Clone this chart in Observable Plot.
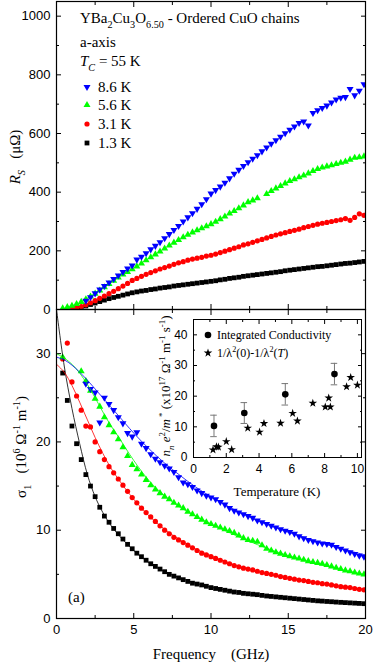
<!DOCTYPE html>
<html><head><meta charset="utf-8">
<script src="https://cdn.jsdelivr.net/npm/d3@7"></script>
<script src="https://cdn.jsdelivr.net/npm/@observablehq/plot@0.6"></script>
<style>
body{margin:0;background:#fff;}
#chart{position:relative;width:374px;height:665px;overflow:hidden;background:#fff;}
#chart svg{position:absolute;overflow:visible;}
</style></head><body><div id="chart"></div>
<script>
// ---------- data ----------
const F = [0.4,0.7,1.0,1.3,1.6,1.9,2.2,2.5,2.8,3.1,
  3.4,3.7,4.0,4.3,4.6,4.9,5.2,5.5,5.8,6.1,
  6.4,6.7,7.0,7.3,7.6,7.9,8.2,8.5,8.8,9.1,
  9.4,9.7,10.0,10.3,10.6,10.9,11.2,11.5,11.8,12.1,
  12.4,12.7,13.0,13.3,13.6,13.9,14.2,14.5,14.8,15.1,
  15.4,15.7,16.0,16.3,16.6,16.9,17.2,17.5,17.8,18.1,
  18.4,18.7,19.0,19.3,19.6,19.9];

// Rs (micro-ohm)
const RS_86 = [null,null,null,null,null,30,42,55,68,80,
  92,104,116,128,140,150,170,180,192,205,
  217,229,243,257,271,285,300,314,328,343,
  359,376,395,407,419,432,447,463,476,489,
  502,514,526,539,552,565,577,589,601,613,
  624,636,641,627,670,679,687,695,706,716,
  722,724,752,730,746,768];
const RS_56 = [4,8,13,19,26,35,44,54,65,76,
  87,98,109,119,128,137,147,157,168,178,
  188,198,208,218,228,237,246,255,263,270,
  277,284,291,299,308,317,327,336,345,355,
  366,372,379,null,394,404,413,421,430,438,
  444,451,457,464,472,479,484,488,492,496,
  500,504,511,517,519,522];
const RS_31 = [null,null,2,5,10,16,23,30,38,46,
  54,62,71,80,89,99,106,113,120,126,
  132,138,143,148,154,159,163,168,172,175,
  178,182,185,189,194,199,204,209,214,220,
  224,229,234,239,244,249,254,258,262,266,
  270,274,279,283,287,291,294,297,300,303,
  306,310,304,314,326,321];
const RS_13 = [null,0,1,3,7,12,17,22,27,32,
  37,41,45,49,53,57,60,63,65,68,
  70,73,75,77,80,82,84,86,88,90,
  92,94,96,98,101,103,106,108,110,113,
  115,117,119,121,123,125,127,129,132,134,
  136,138,140,142,144,146,147,149,151,153,
  155,157,158,160,162,164];

// sigma1 (10^6 / ohm m)
const S1_86 = [null,null,null,null,null,26.6,26.0,25.6,22.2,25.0,
  24.3,23.6,22.8,22.1,21.0,20.6,21.1,19.8,19.3,18.6,
  18.1,17.7,17.3,17.0,16.6,16.0,15.4,15.2,14.9,14.5,
  14.2,13.9,13.7,13.5,13.2,12.9,12.5,12.2,12.0,11.8,
  11.6,11.4,11.1,10.9,10.7,10.5,10.3,10.1,9.95,9.8,
  9.6,9.3,9.1,8.9,8.75,8.6,8.5,8.45,8.35,8.1,
  7.9,7.7,7.5,7.3,7.1,7.0];
const S1_56 = [29.6,null,null,null,28.0,26.9,25.8,24.9,24.0,22.8,
  21.9,21.1,20.3,19.4,18.4,17.4,16.9,16.3,15.7,15.1,
  14.6,14.2,13.8,13.5,13.1,12.8,12.5,12.1,11.8,11.5,
  11.2,10.9,10.7,10.5,10.3,10.1,9.9,9.7,9.4,9.1,
  8.9,8.8,8.7,8.3,7.9,7.7,7.5,7.35,7.2,7.05,
  6.9,6.8,6.65,6.5,6.4,6.3,6.2,6.05,5.9,5.75,
  5.6,5.45,5.35,5.2,5.1,5.0];
const S1_31 = [29.4,31.2,26.8,25.2,23.6,21.8,21.7,20.0,18.9,18.0,
  17.2,16.5,15.8,15.1,14.4,13.7,13.1,12.5,12.0,11.5,
  11.0,10.5,10.0,9.6,9.2,8.9,8.6,8.3,8.0,7.7,
  7.4,7.2,7.0,6.8,6.6,6.4,6.2,6.0,5.85,5.7,
  5.6,5.5,5.35,5.2,5.1,5.0,4.9,4.75,4.65,4.55,
  4.45,4.35,4.3,4.2,4.1,4.05,3.95,3.9,3.8,3.7,
  3.6,3.55,3.5,3.4,3.3,3.25];
const S1_13 = [27.8,24.7,21.8,19.8,18.0,16.3,15.0,13.8,12.6,11.6,
  10.9,10.2,9.6,9.0,8.4,7.9,7.4,7.0,6.6,6.2,
  5.9,5.6,5.3,5.0,4.8,4.6,4.4,4.2,4.0,3.9,
  3.8,3.65,3.5,3.4,3.3,3.2,3.1,3.0,2.95,2.85,
  2.8,2.75,2.7,2.62,2.55,2.5,2.45,2.4,2.35,2.3,
  2.25,2.2,2.15,2.1,2.05,2.0,1.97,1.93,1.9,1.86,
  1.83,1.8,1.77,1.74,1.71,1.68];

// fitted curves
const FIT_F  = [0,0.5,1,1.5,2,2.5,3,3.5,4,5,6,7,8,9,10,12,14,16,18,20];
const FIT_86 = [29.6,29.3,28.7,27.9,27.0,26.0,25.0,24.0,23.0,21.0,19.2,17.6,16.2,14.9,13.8,11.9,10.4,9.2,8.1,7.2];
const FIT_56 = [30.0,29.5,28.8,27.8,26.5,25.0,23.4,21.9,20.6,17.9,15.6,13.9,12.6,11.6,10.7,9.1,7.7,6.6,5.7,4.95];
const FIT_31 = [28.8,27.9,26.4,24.5,22.5,20.5,18.7,17.1,15.8,13.5,11.6,10.1,8.9,7.9,7.1,5.8,4.9,4.25,3.75,3.3];
const FIT_13 = [35.0,28.6,23.8,19.8,16.3,13.8,12.0,10.6,9.5,7.7,6.3,5.3,4.6,4.0,3.55,2.9,2.45,2.15,1.9,1.65];

// inset
const IC_T   = [1.25,3.1,5.6,8.6];
const IC_V   = [10.3,14.5,20.6,27.2];
const IC_ERR = [3.5,3.4,3.5,3.5];
const ST_T = [1.19,1.40,1.52,2.0,2.33,3.31,4.03,4.3,5.31,6.05,6.34,7.28,8.04,8.25,8.35,9.34,9.59,10.0];
const ST_V = [2.5,3.5,3.4,5.2,2.6,9.6,8.3,11.1,11.2,14.4,11.9,17.7,16.5,19.4,16.5,23.1,26.1,23.6];

// ticks
const X_MAJOR = [0,5,10,15,20], X_MINOR = [2.5,7.5,12.5,17.5];
const RS_MAJOR = [0,200,400,600,800,1000], RS_MINOR = [100,300,500,700,900];
const S1_MAJOR = [0,10,20,30], S1_MINOR = [5,15,25];
const T_MAJOR = [0,2,4,6,8,10], T_MINOR = [1,3,5,7,9];
const N_MAJOR = [0,10,20,30,40], N_MINOR = [5,15,25,35];

const LABELS = ["8.6 K","5.6 K","3.1 K","1.3 K"];
const COLORS = ["#0000ff","#00ff00","#ff0000","#000000"];

// ---------- helpers ----------
const triDown = {draw(ctx, size){ const y = Math.sqrt(size/(Math.sqrt(3)*3)); const s3 = Math.sqrt(3);
  ctx.moveTo(0, 2*y); ctx.lineTo(-s3*y, -y); ctx.lineTo(s3*y, -y); ctx.closePath(); }};
const SYMS = [triDown, "triangle", "circle", "square"];
const D3SYMS = [triDown, d3.symbolTriangle, d3.symbolCircle, d3.symbolSquare];
const RADII = [2.6, 2.6, 2.6, 2.7];
const RS = [RS_86, RS_56, RS_31, RS_13];
const S1 = [S1_86, S1_56, S1_31, S1_13];
const FITS = [FIT_86, FIT_56, FIT_31, FIT_13];
const plain = d => String(d);

function rows(arr){ return F.map((f,i)=>({f, v: arr[i]})).filter(d=>d.v!=null); }
function fitRows(arr){ return FIT_F.map((f,i)=>({f, v: arr[i]})); }

function inTicks(xMaj, xMin, yMaj, yMin, big, small){
  const o = {label: null, tickFormat: () => "", strokeWidth: 1};
  return [
    ...["bottom","top"].flatMap(a => [Plot.axisX(xMaj, {...o, anchor: a, tickSize: -big}), Plot.axisX(xMin, {...o, anchor: a, tickSize: -small})]),
    ...["left","right"].flatMap(a => [Plot.axisY(yMaj, {...o, anchor: a, tickSize: -big}), Plot.axisY(yMin, {...o, anchor: a, tickSize: -small})])
  ];
}
const order = [3,2,1,0];
const root = document.getElementById("chart");
function place(svg, left, top){ svg.style.position="absolute"; svg.style.left=left+"px"; svg.style.top=top+"px"; root.appendChild(svg); }
const baseStyle = {fontFamily: "'Liberation Sans', Arial, sans-serif", fontSize: "13px", background: "none", overflow: "visible", color: "#000"};

// ---------- top panel ----------
const topPlot = Plot.plot({
  width: 374, height: 310, marginTop: 1, marginBottom: 1, marginLeft: 56, marginRight: 9,
  x: {domain: [0,20]}, y: {domain: [0,1050]}, style: baseStyle,
  marks: [
    ...inTicks(X_MAJOR, X_MINOR, RS_MAJOR, RS_MINOR, 5, 3),
    Plot.axisY(RS_MAJOR, {anchor: "left", tickSize: 0, tickPadding: 6, label: null, tickFormat: plain}),
    ...order.map(k => Plot.dot(rows(RS[k]), {x: "f", y: "v", symbol: SYMS[k], r: RADII[k], fill: COLORS[k], stroke: "none", clip: true})),
    Plot.frame({stroke: "#000", strokeWidth: 1.2})
  ]
});
place(topPlot, 0, 0);

// ---------- bottom panel ----------
const botPlot = Plot.plot({
  width: 374, height: 356, marginTop: 0, marginBottom: 47, marginLeft: 56, marginRight: 9,
  x: {domain: [0,20]}, y: {domain: [0,35]}, style: baseStyle,
  marks: [
    ...inTicks(X_MAJOR, X_MINOR, S1_MAJOR, S1_MINOR, 5, 3),
    Plot.axisX(X_MAJOR, {anchor: "bottom", tickSize: 0, tickPadding: 6, label: null, tickFormat: plain}),
    Plot.axisY(S1_MAJOR, {anchor: "left", tickSize: 0, tickPadding: 6, label: null, tickFormat: plain}),
    ...order.map(k => Plot.dot(rows(S1[k]), {x: "f", y: "v", symbol: SYMS[k], r: RADII[k], fill: COLORS[k], stroke: "none", clip: true})),
    ...order.map(k => Plot.line(fitRows(FITS[k]), {x: "f", y: "v", stroke: COLORS[k], strokeWidth: 0.8, curve: "catmull-rom", clip: true})),
    Plot.frame({stroke: "#000", strokeWidth: 1.2})
  ]
});
place(botPlot, 0, 309);

// ---------- inset ----------
const icRows = IC_T.map((t,i)=>({t, v: IC_V[i], e: IC_ERR[i]}));
const stRows = ST_T.map((t,i)=>({t, v: ST_V[i]}));
const inset = Plot.plot({
  width: 215, height: 190, marginTop: 9, marginBottom: 43, marginLeft: 43, marginRight: 4,
  x: {domain: [0,10.25]}, y: {domain: [0,45]}, style: {...baseStyle, fontSize: "12px"},
  marks: [
    ...inTicks(T_MAJOR, T_MINOR, N_MAJOR, N_MINOR, 4, 2),
    Plot.axisX(T_MAJOR, {anchor: "bottom", tickSize: 0, tickPadding: 7, label: null, tickFormat: plain}),
    Plot.axisY(N_MAJOR, {anchor: "left", tickSize: 0, tickPadding: 6, label: null, tickFormat: plain}),
    Plot.ruleX(icRows, {x: "t", y1: d => d.v - d.e, y2: d => d.v + d.e, stroke: "#777", strokeWidth: 1}),
    Plot.ruleY(icRows, {y: d => d.v + d.e, x1: d => d.t - 0.2, x2: d => d.t + 0.2, stroke: "#777", strokeWidth: 1}),
    Plot.ruleY(icRows, {y: d => d.v - d.e, x1: d => d.t - 0.2, x2: d => d.t + 0.2, stroke: "#777", strokeWidth: 1}),
    Plot.dot(stRows, {x: "t", y: "v", symbol: "star", r: 2.7, fill: "#000", stroke: "none", clip: true}),
    Plot.dot(icRows, {x: "t", y: "v", symbol: "circle", r: 3.3, fill: "#000", stroke: "none"}),
    Plot.frame({stroke: "#000", strokeWidth: 1})
  ]
});
place(inset, 150, 310);

// ---------- text overlay ----------
const ov = d3.select(root).append("svg").attr("width", 374).attr("height", 665)
  .style("left", "0px").style("top", "0px").style("pointer-events", "none");
const SERIF = "'Liberation Serif', 'Times New Roman', serif";
function rich(x, y, parts, size, opts = {}){
  const t = ov.append("text").attr("font-family", SERIF).attr("font-size", size).attr("fill", "#000")
    .attr("text-anchor", opts.anchor || "start");
  if (opts.rotate) t.attr("transform", `translate(${x},${y}) rotate(-90)`); else t.attr("x", x).attr("y", y);
  let shift = 0;
  for (const [s, k] of parts){
    const ts = t.append("tspan").text(s);
    let target = 0, fs = size;
    if (k.includes("sub")) { target = size*0.3; fs = size*0.68; }
    if (k.includes("sup")) { target = -size*0.38; fs = size*0.68; }
    if (k.startsWith("i")) ts.attr("font-style", "italic");
    ts.attr("dy", target - shift).attr("font-size", fs);
    shift = target;
  }
  return t;
}
const NB = "\u00a0";
rich(80, 23, [["YBa","n"],["2","sub"],["Cu","n"],["3","sub"],["O","n"],["6.50","sub"],[" - Ordered CuO chains","n"]], 15);
rich(80, 47, [["a-axis","n"]], 15);
rich(80, 66, [["T","i"],["C","isub"],[" = 55 K","n"]], 15);
const legY = [92, 110, 129, 148];
LABELS.forEach((lab, k) => {
  ov.append("path").attr("d", d3.symbol(D3SYMS[k], RADII[k]*RADII[k]*Math.PI)())
    .attr("transform", `translate(87,${legY[k]-5})`).attr("fill", COLORS[k]);
  rich(98, legY[k], [[lab,"n"]], 15);
});
rich(20, 157, [["R","i"],["S","isub"],[NB+NB+NB+"(μΩ)","n"]], 15, {rotate: true, anchor: "middle"});
rich(26, 447, [["σ","n"],["1","sub"],[NB+NB+NB+"(10","n"],["6","sup"],[NB+"Ω","n"],["-1","sup"],[NB+"m","n"],["-1","sup"],[")","n"]], 15, {rotate: true, anchor: "middle"});
rich(211, 659, [["Frequency"+NB+NB+NB+NB+"(GHz)","n"]], 15, {anchor: "middle"});
rich(68, 602, [["(a)","n"]], 15);
rich(277, 496, [["Temperature (K)","n"]], 13, {anchor: "middle"});
rich(170, 386, [["n","i"],["n","isub"],[NB+"e","i"],["2","sup"],["/","n"],["m","i"],[NB+"*","sup"],[NB+"(x10","n"],["17","sup"],[NB+"Ω","n"],["-1","sup"],[NB+"m","n"],["-1","sup"],[NB+"s","n"],["-1","sup"],[")","n"]], 13, {rotate: true, anchor: "middle"});
ov.append("path").attr("d", d3.symbol(d3.symbolCircle, 3.3*3.3*Math.PI)()).attr("transform", "translate(208,335)").attr("fill", "#000");
rich(217, 339, [["Integrated Conductivity","n"]], 12);
ov.append("path").attr("d", d3.symbol(d3.symbolStar, 2.7*2.7*Math.PI)()).attr("transform", "translate(208,353)").attr("fill", "#000");
rich(217, 357, [["1/λ","n"],["2","sup"],["(0)-1/λ","n"],["2","sup"],["(","n"],["T","i"],[")","n"]], 12);
</script></body></html>
